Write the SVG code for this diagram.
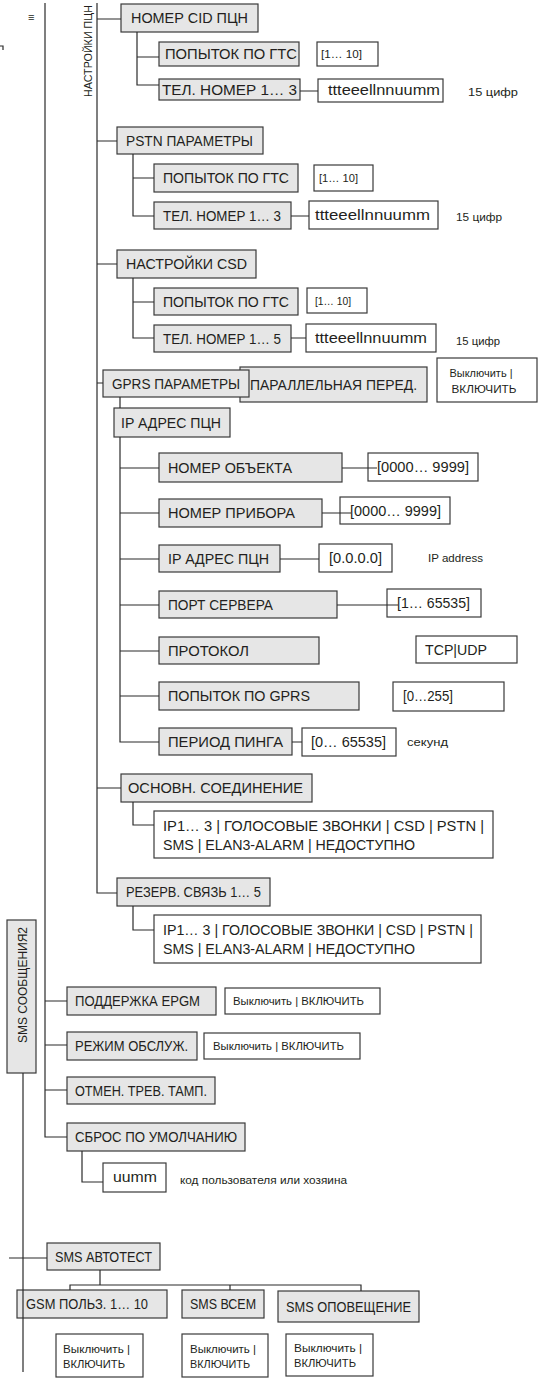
<svg xmlns="http://www.w3.org/2000/svg" width="539" height="1378" viewBox="0 0 539 1378">
<style>
text{font-family:"Liberation Sans",Arial,sans-serif;fill:#231f20}
.t{font-size:15px}
.s{font-size:11px}
.g rect{fill:#e6e6e6;stroke:#3a3a3a;stroke-width:1.2}
.w rect{fill:#fff;stroke:#3a3a3a;stroke-width:1.2}
#connectors path{fill:none;stroke:#2b2b2b;stroke-width:1.2}
</style>
<rect width="539" height="1378" fill="#fff"/>
<text x="28" y="21" style="font-size:11px">≡</text>
<text class="s" transform="translate(92,51) rotate(-90)" text-anchor="middle" textLength="92" lengthAdjust="spacingAndGlyphs">НАСТРОЙКИ ПЦН</text>

<g id="cid" class="g"><rect x="121" y="4" width="137" height="28"/><text class="t" x="131" y="23" textLength="117" lengthAdjust="spacingAndGlyphs">НОМЕР CID ПЦН</text></g>
<g id="cid-try" class="g"><rect x="159" y="42" width="140" height="24"/><text class="t" x="165" y="59" textLength="132" lengthAdjust="spacingAndGlyphs">ПОПЫТОК ПО ГТС</text></g>
<g id="cid-try-v" class="w"><rect x="317" y="42" width="61" height="24"/><text class="s" x="321" y="58" textLength="41" lengthAdjust="spacingAndGlyphs">[1… 10]</text></g>
<g id="cid-tel" class="g"><rect x="159" y="79" width="141" height="21"/><text class="t" x="162" y="95" textLength="135" lengthAdjust="spacingAndGlyphs">ТЕЛ. НОМЕР 1… 3</text></g>
<g id="cid-num" class="w"><rect x="318" y="79" width="125" height="23"/><text class="t" x="328" y="95" textLength="112" lengthAdjust="spacingAndGlyphs">ttteeellnnuumm</text></g>
<text class="s" x="468" y="96" textLength="50" lengthAdjust="spacingAndGlyphs">15 цифр</text>

<g id="pstn" class="g"><rect x="117" y="127" width="146" height="27"/><text class="t" x="126" y="146" textLength="127" lengthAdjust="spacingAndGlyphs">PSTN ПАРАМЕТРЫ</text></g>
<g id="pstn-try" class="g"><rect x="154" y="164" width="144" height="28"/><text class="t" x="163" y="183" textLength="126" lengthAdjust="spacingAndGlyphs">ПОПЫТОК ПО ГТС</text></g>
<g id="pstn-try-v" class="w"><rect x="314" y="165" width="59" height="26"/><text class="s" x="319" y="182" textLength="39" lengthAdjust="spacingAndGlyphs">[1… 10]</text></g>
<g id="pstn-tel" class="g"><rect x="154" y="202" width="137" height="27"/><text class="t" x="163" y="221" textLength="118" lengthAdjust="spacingAndGlyphs">ТЕЛ. НОМЕР 1… 3</text></g>
<g id="pstn-num" class="w"><rect x="309" y="201" width="129" height="28"/><text class="t" x="315" y="220" textLength="115" lengthAdjust="spacingAndGlyphs">ttteeellnnuumm</text></g>
<text class="s" x="456" y="221" textLength="46" lengthAdjust="spacingAndGlyphs">15 цифр</text>

<g id="csd" class="g"><rect x="117" y="250" width="139" height="28"/><text class="t" x="126" y="269" textLength="121" lengthAdjust="spacingAndGlyphs">НАСТРОЙКИ CSD</text></g>
<g id="csd-try" class="g"><rect x="154" y="288" width="144" height="27"/><text class="t" x="163" y="307" textLength="126" lengthAdjust="spacingAndGlyphs">ПОПЫТОК ПО ГТС</text></g>
<g id="csd-try-v" class="w"><rect x="307" y="288" width="60" height="25"/><text class="s" x="315" y="305" textLength="36" lengthAdjust="spacingAndGlyphs">[1… 10]</text></g>
<g id="csd-tel" class="g"><rect x="154" y="325" width="137" height="27"/><text class="t" x="163" y="344" textLength="118" lengthAdjust="spacingAndGlyphs">ТЕЛ. НОМЕР 1… 5</text></g>
<g id="csd-num" class="w"><rect x="306" y="324" width="130" height="28"/><text class="t" x="315" y="343" textLength="112" lengthAdjust="spacingAndGlyphs">ttteeellnnuumm</text></g>
<text class="s" x="456" y="345" textLength="44" lengthAdjust="spacingAndGlyphs">15 цифр</text>

<g id="parallel" class="g"><rect x="240" y="367" width="187" height="35"/><text class="t" x="250" y="390" textLength="167" lengthAdjust="spacingAndGlyphs">ПАРАЛЛЕЛЬНАЯ ПЕРЕД.</text></g>
<g id="gprs" class="g"><rect x="103" y="370" width="146" height="27"/><text class="t" x="112" y="389" textLength="128" lengthAdjust="spacingAndGlyphs">GPRS ПАРАМЕТРЫ</text></g>
<g id="parallel-v" class="w"><rect x="437" y="358" width="100" height="44"/><text class="s" x="481" y="377" text-anchor="middle" textLength="63" lengthAdjust="spacingAndGlyphs">Выключить |</text><text class="s" x="484" y="393" text-anchor="middle" textLength="65" lengthAdjust="spacingAndGlyphs">ВКЛЮЧИТЬ</text></g>
<g id="ip-head" class="g"><rect x="114" y="408" width="116" height="29"/><text class="t" x="121" y="428" textLength="100" lengthAdjust="spacingAndGlyphs">IP АДРЕС ПЦН</text></g>

<g id="obj" class="g"><rect x="159" y="453" width="183" height="29"/><text class="t" x="168" y="473" textLength="124" lengthAdjust="spacingAndGlyphs">НОМЕР ОБЪЕКТА</text></g>
<g id="obj-v" class="w"><rect x="368" y="453" width="110" height="28"/><text class="t" x="377" y="472" textLength="92" lengthAdjust="spacingAndGlyphs">[0000… 9999]</text></g>
<g id="dev" class="g"><rect x="159" y="499" width="163" height="28"/><text class="t" x="168" y="518" textLength="127" lengthAdjust="spacingAndGlyphs">НОМЕР ПРИБОРА</text></g>
<g id="dev-v" class="w"><rect x="340" y="497" width="110" height="27"/><text class="t" x="350" y="516" textLength="91" lengthAdjust="spacingAndGlyphs">[0000… 9999]</text></g>
<g id="ip" class="g"><rect x="159" y="545" width="121" height="27"/><text class="t" x="168" y="564" textLength="101" lengthAdjust="spacingAndGlyphs">IP АДРЕС ПЦН</text></g>
<g id="ip-v" class="w"><rect x="319" y="544" width="73" height="28"/><text class="t" x="329" y="563" textLength="53" lengthAdjust="spacingAndGlyphs">[0.0.0.0]</text></g>
<text class="s" x="428" y="562" textLength="55" lengthAdjust="spacingAndGlyphs">IP address</text>
<g id="port" class="g"><rect x="159" y="591" width="178" height="27"/><text class="t" x="168" y="610" textLength="105" lengthAdjust="spacingAndGlyphs">ПОРТ СЕРВЕРА</text></g>
<g id="port-v" class="w"><rect x="387" y="589" width="94" height="28"/><text class="t" x="397" y="608" textLength="73" lengthAdjust="spacingAndGlyphs">[1… 65535]</text></g>
<g id="proto" class="g"><rect x="159" y="637" width="160" height="27"/><text class="t" x="168" y="656" textLength="81" lengthAdjust="spacingAndGlyphs">ПРОТОКОЛ</text></g>
<g id="proto-v" class="w"><rect x="416" y="636" width="101" height="27"/><text class="t" x="425" y="655" textLength="62" lengthAdjust="spacingAndGlyphs">TCP|UDP</text></g>
<g id="gprs-try" class="g"><rect x="159" y="682" width="200" height="28"/><text class="t" x="168" y="701" textLength="142" lengthAdjust="spacingAndGlyphs">ПОПЫТОК ПО GPRS</text></g>
<g id="gprs-try-v" class="w"><rect x="393" y="682" width="111" height="29"/><text class="t" x="403" y="701" textLength="50" lengthAdjust="spacingAndGlyphs">[0…255]</text></g>
<g id="ping" class="g"><rect x="159" y="728" width="133" height="27"/><text class="t" x="168" y="747" textLength="115" lengthAdjust="spacingAndGlyphs">ПЕРИОД ПИНГА</text></g>
<g id="ping-v" class="w"><rect x="302" y="728" width="94" height="28"/><text class="t" x="311" y="747" textLength="75" lengthAdjust="spacingAndGlyphs">[0… 65535]</text></g>
<text class="s" x="407" y="746" textLength="41" lengthAdjust="spacingAndGlyphs">секунд</text>

<g id="main-conn" class="g"><rect x="121" y="774" width="191" height="28"/><text class="t" x="128" y="793" textLength="175" lengthAdjust="spacingAndGlyphs">ОСНОВН. СОЕДИНЕНИЕ</text></g>
<g id="main-conn-v" class="w"><rect x="154" y="811" width="339" height="47"/><text class="t" x="163" y="831" textLength="321" lengthAdjust="spacingAndGlyphs">IP1… 3 | ГОЛОСОВЫЕ ЗВОНКИ | CSD | PSTN |</text><text class="t" x="163" y="850" textLength="252" lengthAdjust="spacingAndGlyphs">SMS | ELAN3-ALARM | НЕДОСТУПНО</text></g>
<g id="backup" class="g"><rect x="117" y="878" width="153" height="28"/><text class="t" x="126" y="897" textLength="135" lengthAdjust="spacingAndGlyphs">РЕЗЕРВ. СВЯЗЬ 1… 5</text></g>
<g id="backup-v" class="w"><rect x="154" y="915" width="327" height="48"/><text class="t" x="163" y="935" textLength="310" lengthAdjust="spacingAndGlyphs">IP1… 3 | ГОЛОСОВЫЕ ЗВОНКИ | CSD | PSTN |</text><text class="t" x="163" y="954" textLength="252" lengthAdjust="spacingAndGlyphs">SMS | ELAN3-ALARM | НЕДОСТУПНО</text></g>

<g id="sms2" class="g"><rect x="7" y="920" width="29" height="153"/><text style="font-size:12.5px" transform="translate(27,985) rotate(-90)" text-anchor="middle" textLength="116" lengthAdjust="spacingAndGlyphs">SMS СООБЩЕНИЯ2</text></g>

<g id="epgm" class="g"><rect x="67" y="987" width="149" height="28"/><text class="t" x="75" y="1006" textLength="125" lengthAdjust="spacingAndGlyphs">ПОДДЕРЖКА EPGM</text></g>
<g id="epgm-v" class="w"><rect x="225" y="988" width="155" height="26"/><text class="s" x="233" y="1005" textLength="131" lengthAdjust="spacingAndGlyphs">Выключить | ВКЛЮЧИТЬ</text></g>
<g id="service" class="g"><rect x="67" y="1032" width="130" height="28"/><text class="t" x="75" y="1051" textLength="113" lengthAdjust="spacingAndGlyphs">РЕЖИМ ОБСЛУЖ.</text></g>
<g id="service-v" class="w"><rect x="204" y="1033" width="156" height="26"/><text class="s" x="213" y="1050" textLength="131" lengthAdjust="spacingAndGlyphs">Выключить | ВКЛЮЧИТЬ</text></g>
<g id="tamper" class="g"><rect x="67" y="1077" width="148" height="27"/><text class="t" x="75" y="1096" textLength="132" lengthAdjust="spacingAndGlyphs">ОТМЕН. ТРЕВ. ТАМП.</text></g>
<g id="reset" class="g"><rect x="67" y="1123" width="178" height="28"/><text class="t" x="75" y="1142" textLength="162" lengthAdjust="spacingAndGlyphs">СБРОС ПО УМОЛЧАНИЮ</text></g>
<g id="reset-v" class="w"><rect x="103" y="1163" width="63" height="29"/><text class="t" x="113" y="1182" textLength="44" lengthAdjust="spacingAndGlyphs">uumm</text></g>
<text class="s" x="180" y="1184" textLength="167" lengthAdjust="spacingAndGlyphs">код пользователя или хозяина</text>

<g id="autotest" class="g"><rect x="47" y="1243" width="113" height="27"/><text class="t" x="55" y="1262" textLength="97" lengthAdjust="spacingAndGlyphs">SMS АВТОТЕСТ</text></g>
<g id="gsm" class="g"><rect x="17" y="1290" width="150" height="28"/><text class="t" x="26" y="1309" textLength="122" lengthAdjust="spacingAndGlyphs">GSM ПОЛЬЗ.  1… 10</text></g>
<g id="smsall" class="g"><rect x="182" y="1290" width="82" height="28"/><text class="t" x="190" y="1309" textLength="66" lengthAdjust="spacingAndGlyphs">SMS ВСЕМ</text></g>
<g id="smsnotify" class="g"><rect x="278" y="1291" width="141" height="31"/><text class="t" x="286" y="1312" textLength="125" lengthAdjust="spacingAndGlyphs">SMS ОПОВЕЩЕНИЕ</text></g>
<g id="gsm-v" class="w"><rect x="56" y="1334" width="87" height="43"/><text class="s" x="63" y="1353" textLength="67" lengthAdjust="spacingAndGlyphs">Выключить |</text><text class="s" x="63" y="1368" textLength="62" lengthAdjust="spacingAndGlyphs">ВКЛЮЧИТЬ</text></g>
<g id="smsall-v" class="w"><rect x="182" y="1334" width="86" height="43"/><text class="s" x="190" y="1353" textLength="66" lengthAdjust="spacingAndGlyphs">Выключить |</text><text class="s" x="190" y="1368" textLength="60" lengthAdjust="spacingAndGlyphs">ВКЛЮЧИТЬ</text></g>
<g id="smsnotify-v" class="w"><rect x="286" y="1334" width="87" height="42"/><text class="s" x="294" y="1352" textLength="68" lengthAdjust="spacingAndGlyphs">Выключить |</text><text class="s" x="294" y="1367" textLength="62" lengthAdjust="spacingAndGlyphs">ВКЛЮЧИТЬ</text></g>

<g id="connectors">
<path d="M0,46 H3 V50"/>
<path d="M45,3 V1137 H67 M45,1001 H67 M45,1045 H67 M45,1090 H67"/>
<path d="M97,3 V893 H117 M97,19 H121 M97,141 H117 M97,264 H117 M97,383 H103 M97,788 H121"/>
<path d="M137,32 V85 H159 M137,57 H159 M300,91 H318"/>
<path d="M133,154 V216 H154 M133,178 H154 M291,216 H309"/>
<path d="M133,278 V338 H154 M133,302 H154 M291,338 H306"/>
<path d="M120,397 V408 M120,437 V742 H159 M120,468 H159 M342,468 H377 M120,513 H159 M322,513 H351 M120,559 H159 M280,559 H319 M120,605 H159 M337,605 H398 M120,651 H159 M120,696 H159 M292,742 H302"/>
<path d="M133,802 V825 H154 M133,906 V930 H154"/>
<path d="M82,1151 V1182 H103"/>
<path d="M23,1073 V1372 M9,1258 H47"/>
<path d="M100,1270 V1285 M70,1290 V1285 H361 V1291 M230,1285 V1290"/>
</g>
</svg>
